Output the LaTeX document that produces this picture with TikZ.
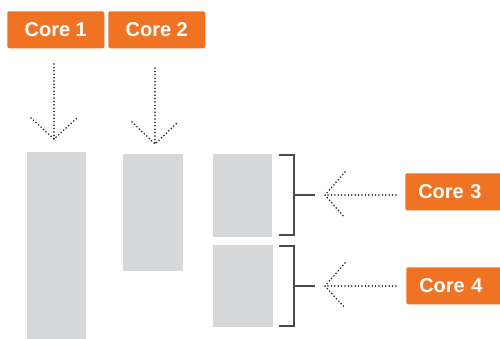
\documentclass[tikz,border=0pt]{standalone}
\usepackage{fontspec}
\setmainfont{Liberation Sans}
\usetikzlibrary{calc}
\definecolor{coreorange}{HTML}{F07323}
\definecolor{blockgrey}{HTML}{D7D8DA}
\definecolor{bracketgrey}{HTML}{4A4A4A}
\tikzset{
  corelabel/.style={fill=coreorange, text=white, rounded corners=1.5pt,
    font=\fontsize{15}{18}\selectfont\bfseries, inner sep=0pt,
    anchor=north west},
  block/.style={fill=blockgrey, draw=none, inner sep=0pt, anchor=north west},
  dotline/.style={line width=1.3pt, line cap=round, dash pattern=on 0pt off 2.55pt, black!90},
  bracketline/.style={line width=0.8pt, bracketgrey}
}
\begin{document}
\begin{tikzpicture}[x=0.75pt, y=-0.75pt]
\clip (0,0) rectangle (500,339);
\fill[white] (0,0) rectangle (500,339);

% labels
\node[corelabel, minimum width=97*0.75pt, minimum height=37*0.75pt] (c1) at (7,11) {Core 1};
\node[corelabel, minimum width=97*0.75pt, minimum height=37*0.75pt] (c2) at (108,11) {Core 2};
\node[corelabel, minimum height=37*0.75pt, text width=82.5pt, align=left] (c3) at (405,173) {\hspace*{9.75pt}Core 3};
\node[corelabel, minimum height=37*0.75pt, text width=82.5pt, align=left] (c4) at (406,267) {\hspace*{9.75pt}Core 4};

% memory blocks
\node[block, minimum width=59*0.75pt, minimum height=190*0.75pt] (b1) at (27,152) {};
\node[block, minimum width=60*0.75pt, minimum height=117*0.75pt] (b2) at (123,154) {};
\node[block, minimum width=59*0.75pt, minimum height=83*0.75pt] (b3) at (213,154) {};
\node[block, minimum width=60*0.75pt, minimum height=82*0.75pt] (b4) at (213,245) {};

% arrow points
\coordinate (a1s) at (54,64);  \coordinate (a1t) at (54,139);
\coordinate (a2s) at (155,68); \coordinate (a2t) at (155,144);
\coordinate (a3s) at (396,195); \coordinate (a3t) at (325,195);
\coordinate (a4s) at (396,286); \coordinate (a4t) at (325,286);

% dotted arrows
\draw[dotline] (a1s) -- (a1t);
\draw[dotline] ($(a1t)+(-23,-21)$) -- (a1t) -- ($(a1t)+(23,-21)$);
\draw[dotline] (a2s) -- (a2t);
\draw[dotline] ($(a2t)+(-23,-22)$) -- (a2t) -- ($(a2t)+(23,-22)$);
\draw[dotline] (a3s) -- (a3t);
\draw[dotline] ($(a3t)+(20,-23)$) -- (a3t) -- ($(a3t)+(20,23)$);
\draw[dotline] (a4s) -- (a4t);
\draw[dotline] ($(a4t)+(20,-23)$) -- (a4t) -- ($(a4t)+(20,22)$);

% brackets
\draw[bracketline] (279,155) -- (294,155) -- (294,235) -- (279,235);
\draw[bracketline] (294,195) -- (315,195);
\draw[bracketline] (279,246) -- (294,246) -- (294,326) -- (279,326);
\draw[bracketline] (294,286) -- (315,286);
\end{tikzpicture}
\end{document}
